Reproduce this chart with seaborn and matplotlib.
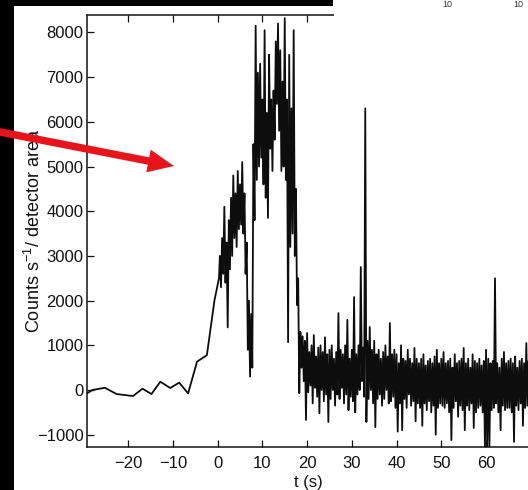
import numpy as np
import pandas as pd
import matplotlib
matplotlib.use("Agg")
import matplotlib.pyplot as plt
import matplotlib.patches as mpatches
import seaborn as sns

# ---- data ----
# smooth pre-burst part (time s, counts)
t_pre = [-29.2, -28.0, -25.2, -22.6, -18.9, -16.8, -14.8, -12.8, -10.6, -8.6, -6.6, -4.6, -2.4, -0.7, 0.3]
v_pre = [-75, 0, 50, -90, -135, 30, -90, 185, 45, 165, -75, 635, 780, 2010, 2500]

# dense part: per 0.5 s bin, the upper and lower excursion of the trace
burst_start = 0.5
burst_hi = [3000, 3400, 4100, 3300, 3800, 4300, 4800, 4400, 4900, 4600,
            5100, 4400, 3300, 2000, 1700, 5500, 8150, 7100, 7300, 6500,
            8050, 6200, 7500, 6500, 6700, 7800, 8200, 7600, 6900, 8320,
            6500, 7500, 6300, 8050, 4500, 2500, 1300, 1200, 1100]
burst_lo = [2300, 2600, 2400, 1400, 2700, 3000, 3400, 3200, 3600, 3700,
            3500, 2600, 900, 300, 500, 3800, 4700, 5000, 5200, 4600,
            4300, 3850, 5400, 4900, 5600, 6400, 5800, 4900, 5000, 4700,
            1070, 3200, 3500, 3000, 1900, -70, 500, 200, -670]

tail_start = 20.0
tail_hi = [1275, 850, 1000, 1230, 750, 950, 1000, 850, 1180, 800,
           900, 1000, 700, 850, 1720, 900, 800, 1000, 1570, 700,
           900, 2080, 800, 1000, 2750, 950, 6300, 1100, 1410, 900,
           1100, 800, 900, 700, 850, 1000, 750, 1500, 800, 900,
           800, 600, 1000, 700, 650, 900, 700, 600, 940, 700,
           600, 700, 800, 550, 650, 700, 600, 750, 900, 600,
           700, 850, 600, 650, 700, 500, 800, 600, 650, 700,
           940, 600, 700, 500, 800, 650, 600, 700, 550, 650,
           900, 700, 600, 650, 2500, 600, 500, 700, 850, 600,
           650, 700, 600, 750, 500, 650, 700, 600, 1050, 650,
           700, 600, 650, 700]
tail_lo = [-50, 100, -300, 50, -150, -520, 0, -250, -100, -715,
           -200, 0, -350, -100, -200, 50, -300, -100, -450, -150,
           -250, -500, -100, 0, 200, -150, -715, -200, 0, -300,
           -830, -200, -100, -350, -200, 0, -300, -250, -150, -400,
           -930, -300, -900, -200, -400, -100, -350, -250, -700, -300,
           -400, -800, -300, -450, -250, -500, -350, -1000, -400, -300,
           -350, -400, -300, -500, -1120, -400, -250, -600, -350, -450,
           -900, -350, -450, -300, -850, -500, -400, -350, -500, -1270,
           -1270, -1270, -450, -400, -300, -500, -900, -350, -450, -400,
           -400, -500, -1160, -350, -450, -300, -800, -400, -350, -300,
           -400, -350, -450, -300]

x_ticks = [-20, -10, 0, 10, 20, 30, 40, 50, 60]
y_ticks = [-1000, 0, 1000, 2000, 3000, 4000, 5000, 6000, 7000, 8000]
corner_labels = ["10", "10"]
bin_w = 0.5


def interleave(start, hi, lo):
    b = start + bin_w * np.arange(len(hi))
    t = np.column_stack([b, b + bin_w / 2]).ravel()
    v = np.column_stack([hi, lo]).ravel()
    return t, v


tb, vb = interleave(burst_start, burst_hi, burst_lo)
tt, vt = interleave(tail_start, tail_hi, tail_lo)
df = pd.DataFrame({
    "t": np.concatenate([t_pre, tb, tt]),
    "v": np.concatenate([v_pre, vb, vt]),
})

# ---- style ----
sns.set_style("ticks")
plt.rcParams["font.family"] = ["Liberation Sans", "DejaVu Sans"]
plt.rcParams["mathtext.fontset"] = "custom"
plt.rcParams["mathtext.rm"] = "Liberation Sans"
plt.rcParams["mathtext.it"] = "Liberation Sans:italic"

W, H = 528, 490
fig = plt.figure(figsize=(W / 100, H / 100), dpi=100)
fig.patch.set_facecolor("white")

ax_l, ax_r, ax_t, ax_b = 87, 529, 15, 447
ax = fig.add_axes([ax_l / W, (H - ax_b) / H, (ax_r - ax_l) / W, (ax_b - ax_t) / H])

sns.lineplot(data=df, x="t", y="v", estimator=None, sort=False,
             color="#0d0d0d", linewidth=1.3, ax=ax)

ax.set_xlim(-29.2, 69.6)
ax.set_ylim(-1275, 8390)
ax.set_xticks(x_ticks)
ax.set_yticks(y_ticks)
ax.set_xticklabels([str(v).replace("-", "\u2212") for v in x_ticks])
ax.set_yticklabels([str(v).replace("-", "\u2212") for v in y_ticks])
ax.tick_params(direction="in", top=True, right=False, length=5, width=0.9,
               labelsize=12, colors="#111111")
ax.tick_params(axis="x", pad=6.5)
ax.tick_params(axis="y", pad=2.5)
ax.spines["right"].set_visible(False)
for s in ax.spines.values():
    s.set_linewidth(1.1)
    s.set_color("#111111")

ax.set_xlabel("t (s)", fontsize=12, color="#111111")
ax.set_ylabel("Counts s$^{-1}$/ detector area", fontsize=13, color="#111111")
ax.xaxis.set_label_coords(0.5, (ax_b - 475) / (ax_b - ax_t))
ax.yaxis.set_label_coords((34 - ax_l) / (ax_r - ax_l), 0.5)
ax.xaxis.label.set_va("top")
ax.yaxis.label.set_va("center")

# ---- scan artefacts: black borders, white patch, corner labels, red arrow ----
fig.add_artist(mpatches.Rectangle((0, 0), 14 / W, 1, transform=fig.transFigure,
                                  facecolor="black", edgecolor="none", zorder=10))
fig.add_artist(mpatches.Rectangle((0, 1 - 6 / H), 333 / W, 6 / H, transform=fig.transFigure,
                                  facecolor="black", edgecolor="none", zorder=10))
fig.add_artist(mpatches.Rectangle((334 / W, 1 - 68 / H), (W - 334) / W, 68 / H,
                                  transform=fig.transFigure, facecolor="white",
                                  edgecolor="none", zorder=9))
for xp, lab in zip((447, 518), corner_labels):
    fig.text(xp / W, 1 - 7 / H, lab, ha="center", va="baseline", fontsize=6.5,
             color="#333333", zorder=11)

arrow = mpatches.FancyArrow(-0.05, (H - 131) / 100, 1.79, -0.35,
                            width=0.075, head_width=0.23, head_length=0.26,
                            length_includes_head=True, transform=fig.dpi_scale_trans,
                            facecolor="#e8141c", edgecolor="none", zorder=12)
fig.add_artist(arrow)

fig.savefig("out.png", dpi=100)
